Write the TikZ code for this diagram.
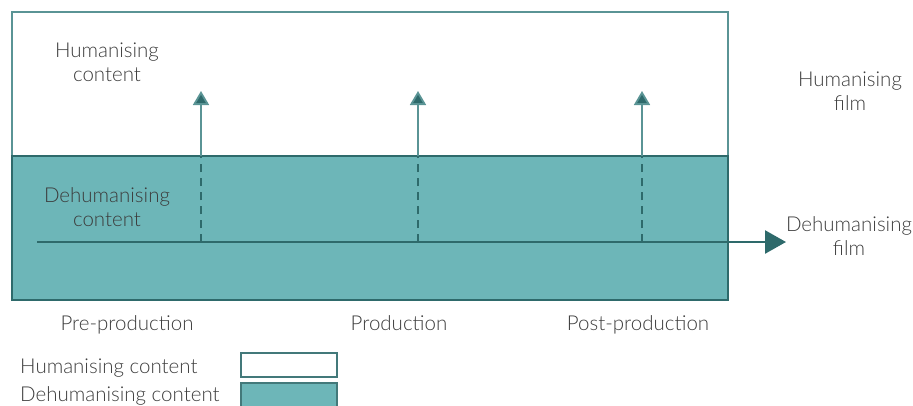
\documentclass[tikz,border=0pt]{standalone}
\usepackage{fontspec}
\setmainfont{Lato Light}
\usetikzlibrary{arrows.meta}
\definecolor{tealfill}{HTML}{6DB6B8}
\definecolor{tealdark}{HTML}{2E6A6B}
\definecolor{tealmid}{HTML}{5A9495}
\definecolor{txt}{HTML}{3C3C3C}
\begin{document}
\begin{tikzpicture}[x=1pt,y=-1pt,
  lbl/.style={text=txt,font=\fontsize{20.5}{24}\selectfont,align=center,inner sep=0pt},
  stage/.style={lbl,anchor=base},
  legbox/.style={draw=tealdark!90,line width=1.5pt}]
\useasboundingbox (0,0) rectangle (913,405);
% content boxes
\draw[tealmid,line width=1.3pt](12,12) rectangle (728,156);
\draw[tealdark,fill=tealfill,line width=2pt](12,156) rectangle (728,300);
% film line
\coordinate (start) at (37,242);
\node[lbl] (dfilm) at (849,236) {Dehumanising\\film};
\node[lbl] (hfilm) at (850,91) {Humanising\\film};
\draw[tealdark,line width=2.6pt,-{Triangle[length=21pt,width=23pt]}](start)--(786,242)coordinate(end);
% turning points
\foreach \x/\n in {201/pre,418/prod,642/post}{
  \coordinate (\n low) at (\x,242);
  \coordinate (\n mid) at (\x,156);
  \coordinate (\n top) at (\x,91);
  \draw[tealdark,line width=1.6pt,dash pattern=on 8pt off 6pt](\n low)--(\n mid);
  \draw[tealmid,line width=1.8pt,-{Triangle[length=14pt,width=16pt,fill=tealdark]}](\n mid)--(\n top);
}
\node[lbl] (hcont) at (107,62) {Humanising\\content};
\node[lbl] (dcont) at (107,207) {Dehumanising\\content};
% stages
\node[stage] (pre) at (127,330) {Pre-production};
\node[stage] (prod) at (399,330) {Production};
\node[stage] (post) at (638,330) {Post-production};
% legend
\node[lbl,anchor=base west] (lh) at (20,373) {Humanising content};
\node[lbl,anchor=base west] (ld) at (20,401) {Dehumanising content};
\draw[legbox,fill=white](241,353) rectangle (337,377);
\draw[legbox,fill=tealfill](241,383) rectangle (337,410);
\end{tikzpicture}
\end{document}
